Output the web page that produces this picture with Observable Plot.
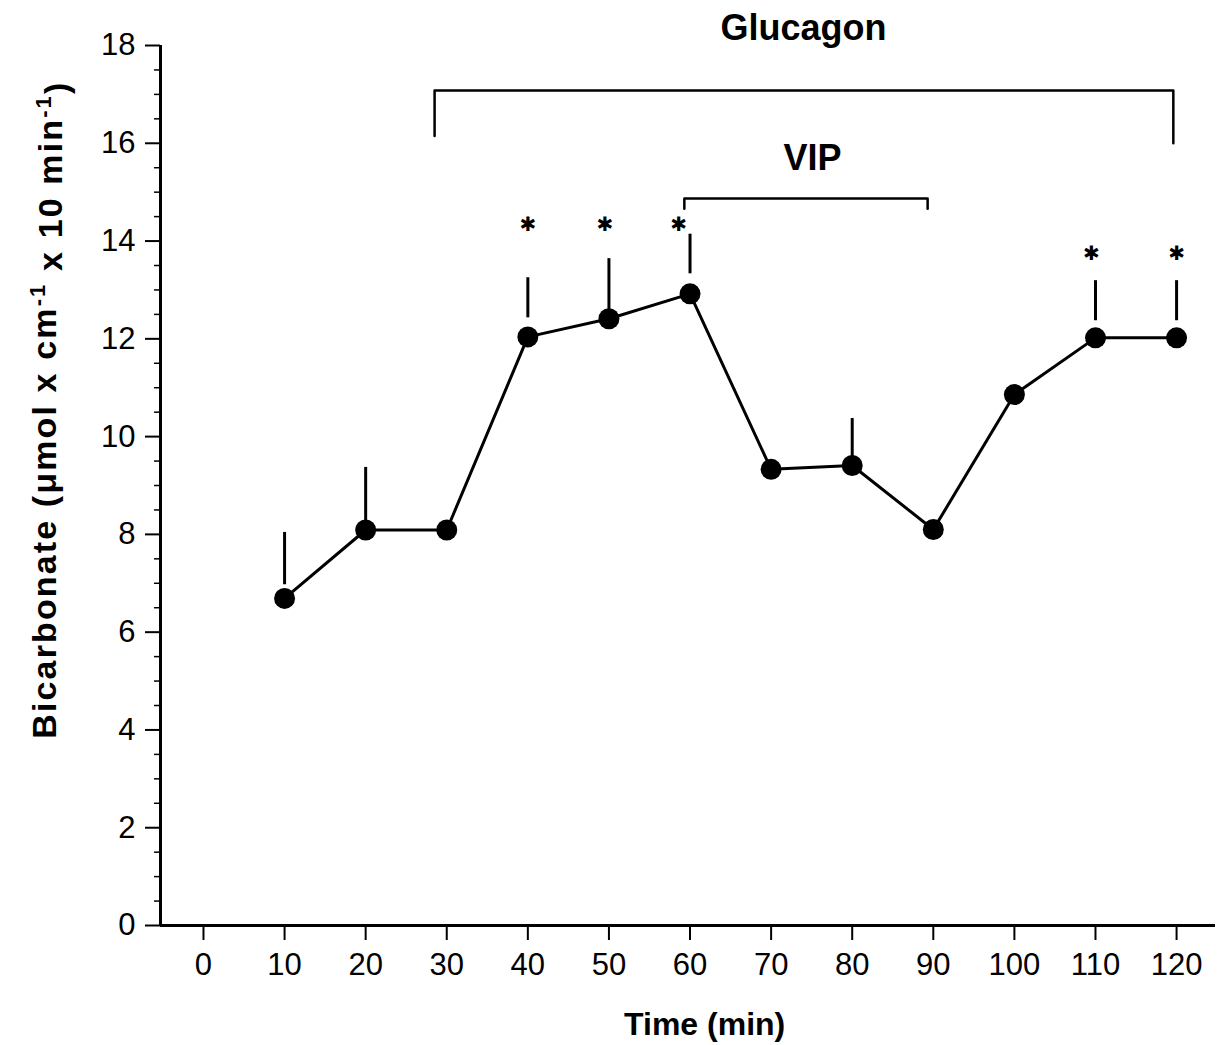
<!DOCTYPE html>
<html>
<head>
<meta charset="utf-8">
<script src="https://cdn.jsdelivr.net/npm/d3@7"></script>
<script src="https://cdn.jsdelivr.net/npm/@observablehq/plot@0.6"></script>
<style>
  html, body { margin: 0; padding: 0; background: #fff; }
  svg { display: block; }
</style>
</head>
<body>
<div id="chart"></div>
<script>
// ---- data ----
const times = [10, 20, 30, 40, 50, 60, 70, 80, 90, 100, 110, 120];
const bicarbonate = [6.69, 8.09, 8.09, 12.04, 12.41, 12.92, 9.33, 9.41, 8.1, 10.86, 12.02, 12.02];
const errorBottom = [6.97, 8.09, null, 12.43, 12.41, 13.33, null, 9.41, null, null, 12.37, 12.37];
const errorTop = [8.04, 9.37, null, 13.25, 13.64, 14.14, null, 10.37, null, null, 13.19, 13.19];
const starTimes = [40, 49.5, 58.6, 109.5, 120];
const starValues = [14.33, 14.33, 14.33, 13.75, 13.75];
const xTicks = [0, 10, 20, 30, 40, 50, 60, 70, 80, 90, 100, 110, 120];
const yTicks = [0, 2, 4, 6, 8, 10, 12, 14, 16, 18];
const yMinorTicks = d3.range(0, 18.01, 0.5).filter(v => v % 2 !== 0);
const glucagonBracket = {start: 28.5, end: 119.6, level: 17.08, leftFoot: 16.15, rightFoot: 16.0};
const vipBracket = {start: 59.3, end: 89.3, level: 14.87, leftFoot: 14.66, rightFoot: 14.66};
const annotations = [
  {label: "Glucagon", x: 74.0, y: 18.34},
  {label: "VIP", x: 75.1, y: 15.69}
];
const xDomain = [-5.3, 124.8];
const yDomain = [0, 18];

// ---- build tables ----
const series = times.map((t, i) => ({t, v: bicarbonate[i], lo: errorBottom[i], e: errorTop[i]}));
const errs = series.filter(d => d.e != null);
const stars = starTimes.map((t, i) => ({t, v: starValues[i]}));
const bracketPath = b => [
  {x: b.start, y: b.leftFoot}, {x: b.start, y: b.level},
  {x: b.end, y: b.level}, {x: b.end, y: b.rightFoot}
];

const font = "'Liberation Sans', Arial, Helvetica, sans-serif";

const plot = Plot.plot({
  width: 1222,
  height: 1045,
  marginLeft: 160,
  marginRight: 7,
  marginTop: 45,
  marginBottom: 120,
  style: {fontFamily: font, fontSize: "30px", color: "#000", background: "#fff", overflow: "visible"},
  x: {domain: xDomain, axis: null},
  y: {domain: yDomain, axis: null},
  marks: [
    // minor y ticks
    Plot.axisY({ticks: yMinorTicks, tickSize: 6, text: null, label: null, strokeWidth: 1.5}),
    // major y ticks
    Plot.axisY({ticks: yTicks, tickSize: 15, tickPadding: 10, label: null, strokeWidth: 2, fontSize: 31}),
    // x ticks
    Plot.axisX({ticks: xTicks, tickSize: 15, tickPadding: 12, label: null, strokeWidth: 2, fontSize: 31}),
    // axis lines
    Plot.ruleX([xDomain[0]], {y1: yDomain[0], y2: yDomain[1], strokeWidth: 3}),
    Plot.ruleY([yDomain[0]], {x1: xDomain[0], x2: xDomain[1], strokeWidth: 3}),
    // brackets
    Plot.line(bracketPath(glucagonBracket), {x: "x", y: "y", strokeWidth: 2.5}),
    Plot.line(bracketPath(vipBracket), {x: "x", y: "y", strokeWidth: 2.5}),
    Plot.text(annotations, {x: "x", y: "y", text: "label", fontWeight: "bold", fontSize: 36}),
    // error bars
    Plot.ruleX(errs, {x: "t", y1: "lo", y2: "e", strokeWidth: 3}),
    // data line and points
    Plot.line(series, {x: "t", y: "v", strokeWidth: 3}),
    Plot.dot(series, {x: "t", y: "v", r: 10.5, fill: "#000", stroke: "none"}),
    // significance stars
    Plot.text(stars, {x: "t", y: "v", text: () => "\u2731", fontSize: 20, fontFamily: "DejaVu Sans"}),
    // axis labels
    Plot.text(["Time (min)"], {x: 61.8, y: -2.04, text: d => d, fontWeight: "bold", fontSize: 32}),
    Plot.text(["Bicarbonate"], {x: -19.5, y: 10.53, text: d => d, rotate: -90, fontWeight: "bold", fontSize: 34, className: "ylab"})
  ]
});

// rich y label with superscripts
const ylab = d3.select(plot).select(".ylab text");
ylab.text(null);
ylab.attr("textLength", 656).attr("lengthAdjust", "spacing");
ylab.append("tspan").text("Bicarbonate (\u03BCmol x cm");
ylab.append("tspan").attr("dy", "-0.5em").attr("font-size", "22").text("-1");
ylab.append("tspan").attr("dy", "0.5em").text(" x 10 min");
ylab.append("tspan").attr("dy", "-0.5em").attr("font-size", "22").text("-1");
ylab.append("tspan").attr("dy", "0.5em").text(")");

document.getElementById("chart").appendChild(plot);
</script>
</body>
</html>
